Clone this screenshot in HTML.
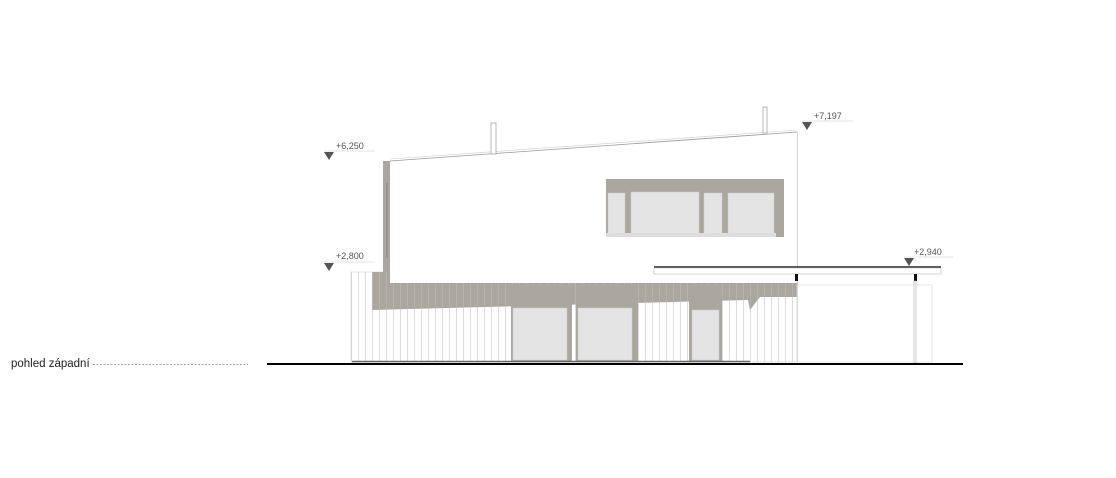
<!DOCTYPE html>
<html><head><meta charset="utf-8"><style>
html,body{margin:0;padding:0;background:#fff;}
svg{display:block;}
text{font-family:"Liberation Sans",sans-serif;}
</style></head><body>
<svg width="1116" height="478" viewBox="0 0 1116 478" xmlns="http://www.w3.org/2000/svg">
<defs>
<pattern id="sid" x="351" y="0" width="7" height="10" patternUnits="userSpaceOnUse">
<rect width="7" height="10" fill="#fff"/><line x1="0.5" y1="0" x2="0.5" y2="10" stroke="#dcdcdc" stroke-width="1"/>
</pattern>
<pattern id="sidg" x="351" y="0" width="7" height="10" patternUnits="userSpaceOnUse">
<rect width="7" height="10" fill="#aba79f"/><line x1="0.5" y1="0" x2="0.5" y2="10" stroke="#b6b2ab" stroke-width="1"/>
</pattern>
</defs>
<rect x="351" y="272" width="446" height="90" fill="url(#sid)" stroke="#ccc" stroke-width="0.6"/>
<polygon points="372,272 390,272 390,283 642,283 655,268 797,268 797,297 760,297 750,310 748,300 372,310" fill="url(#sidg)"/>
<polygon points="390,161 797,132 797,283 642,283 642,283 390,283" fill="#fff"/>
<line x1="390" y1="161" x2="797" y2="132" stroke="#999" stroke-width="0.8"/>
<line x1="390" y1="159" x2="797" y2="130" stroke="#ccc" stroke-width="0.6"/>
<line x1="797.5" y1="132" x2="797.5" y2="362" stroke="#ccc" stroke-width="0.8"/>
<rect x="383" y="161" width="7" height="111" fill="#aba79f"/>
<line x1="387" y1="183" x2="387" y2="258" stroke="#8a8781" stroke-width="1"/>
<rect x="491" y="123" width="5" height="31" fill="#fff" stroke="#999" stroke-width="0.7"/>
<rect x="763" y="107" width="4" height="26" fill="#fff" stroke="#999" stroke-width="0.7"/>
<rect x="606" y="179" width="178" height="58" fill="#aba79f"/>
<rect x="608" y="193" width="17" height="42" fill="#e4e4e4" stroke="#ccc" stroke-width="0.5"/>
<rect x="631" y="192" width="68" height="43" fill="#e4e4e4" stroke="#ccc" stroke-width="0.5"/>
<rect x="704" y="193" width="18" height="42" fill="#e4e4e4" stroke="#ccc" stroke-width="0.5"/>
<rect x="728" y="193" width="46" height="42" fill="#e4e4e4" stroke="#ccc" stroke-width="0.5"/>
<rect x="606" y="233" width="170" height="4" fill="#ddd"/>
<rect x="511" y="285" width="61" height="77" fill="#aba79f"/>
<rect x="513" y="308" width="54" height="52" fill="#e4e4e4" stroke="#ccc" stroke-width="0.5"/>
<rect x="576" y="285" width="62" height="77" fill="#aba79f"/>
<rect x="578" y="308" width="54" height="52" fill="#e4e4e4" stroke="#ccc" stroke-width="0.5"/>
<rect x="689" y="285" width="33" height="77" fill="#aba79f"/>
<rect x="692" y="310" width="27" height="50" fill="#e4e4e4" stroke="#ccc" stroke-width="0.5"/>
<line x1="654" y1="267" x2="941" y2="267" stroke="#222" stroke-width="1.5"/>
<rect x="654" y="268" width="287" height="6" fill="#fff" stroke="#bbb" stroke-width="0.6"/>
<rect x="795" y="274" width="3" height="7" fill="#111"/>
<rect x="914" y="274" width="3" height="7" fill="#111"/>
<rect x="914" y="281" width="2" height="82" fill="#fff" stroke="#aaa" stroke-width="0.6"/>
<rect x="797" y="285" width="135" height="77" fill="none" stroke="#ddd" stroke-width="0.7"/>
<line x1="352" y1="361.5" x2="750" y2="361.5" stroke="#666" stroke-width="1.5"/>
<line x1="267" y1="364" x2="963" y2="364" stroke="#000" stroke-width="2"/>
<g fill="#555" font-size="9">
<polygon points="324,152 334,152 329,160"/><line x1="324" y1="151" x2="375" y2="151" stroke="#ccc" stroke-width="0.6"/><text x="336" y="149">+6,250</text>
<polygon points="324,263 334,263 329,271"/><line x1="324" y1="262" x2="375" y2="262" stroke="#ccc" stroke-width="0.6"/><text x="336" y="259">+2,800</text>
<polygon points="802,122 812,122 807,130"/><line x1="802" y1="121" x2="853" y2="121" stroke="#ccc" stroke-width="0.6"/><text x="814" y="119">+7,197</text>
<polygon points="904,258 914,258 909,266"/><line x1="904" y1="257" x2="953" y2="257" stroke="#ccc" stroke-width="0.6"/><text x="914" y="255">+2,940</text>
</g>
<text x="11" y="367" font-size="11.5" fill="#222">pohled západní</text>
<line x1="93" y1="364.5" x2="248" y2="364.5" stroke="#888" stroke-width="0.7" stroke-dasharray="2,1.5"/>
</svg>
</body></html>
